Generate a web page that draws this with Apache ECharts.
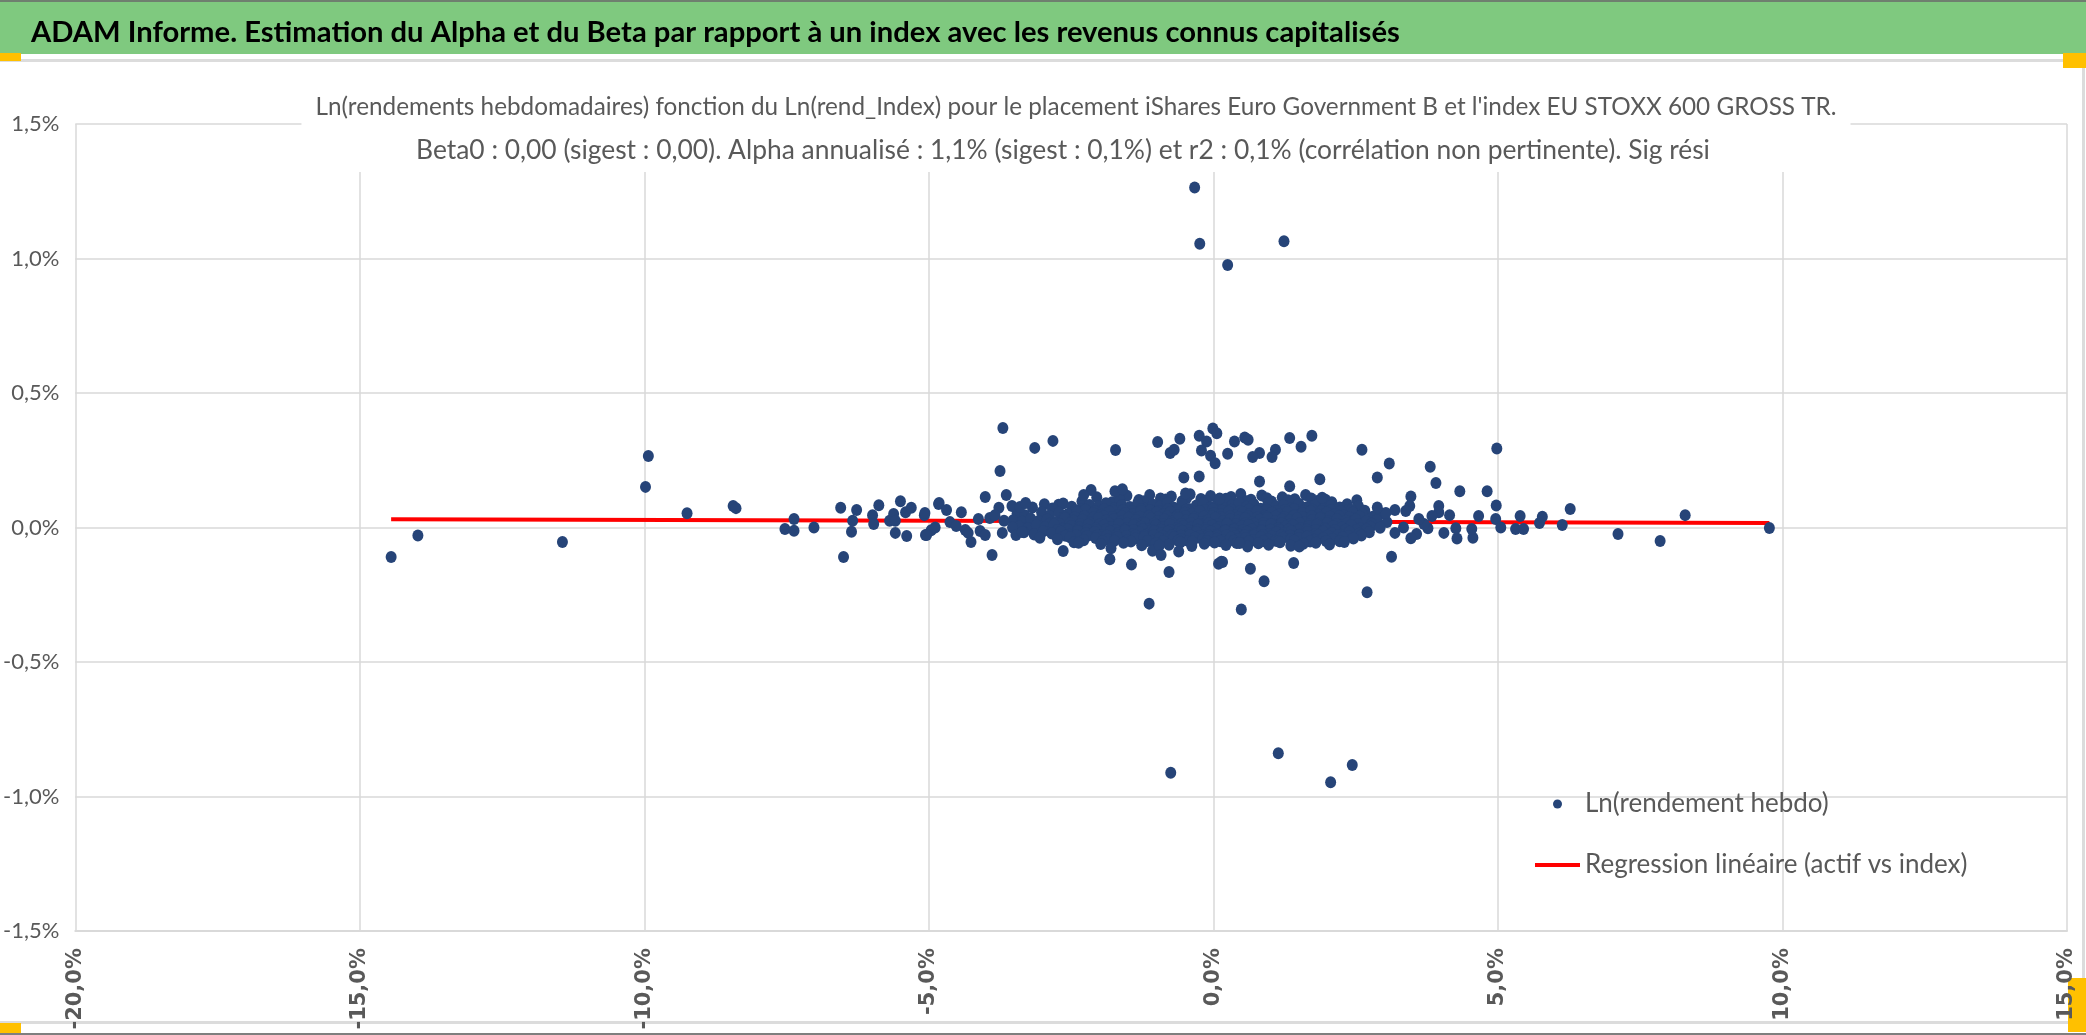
<!DOCTYPE html>
<html><head><meta charset="utf-8">
<script src="https://cdn.jsdelivr.net/npm/echarts@6/dist/echarts.min.js"></script>
<style>html,body{margin:0;padding:0;background:#fff;overflow:hidden}#c{width:2086px;height:1035px}</style>
</head><body><div id="c"></div>
<script>
const mainTitle = "ADAM Informe. Estimation du Alpha et du Beta par rapport à un index avec les revenus connus capitalisés";
const chartTitleLines = [
  "Ln(rendements hebdomadaires) fonction du Ln(rend_Index) pour le placement iShares Euro Government B et l'index EU STOXX 600 GROSS TR.",
  "Beta0 : 0,00 (sigest : 0,00). Alpha annualisé : 1,1% (sigest : 0,1%) et r2 : 0,1% (corrélation non pertinente). Sig rési"
];
const seriesNames = ["Ln(rendement hebdo)", "Regression linéaire (actif vs index)"];
const xTicks = [-20, -15, -10, -5, 0, 5, 10, 15];
const yTicks = [-1.5, -1, -0.5, 0, 0.5, 1, 1.5];

// regression line end points (x %, y %)
const regression = [[-14.45, 0.031], [9.77, 0.017]];

// isolated points, left tail
const pointsLeft = [[-14.45,-0.11],[-13.98,-0.03],[-11.44,-0.054],[-9.93,0.266],[-9.98,0.151],[-9.25,0.053],[-8.44,0.08],[-8.39,0.072],[-7.53,-0.006],[-7.37,0.032],[-7.37,-0.012],[-7.02,0.0],[-6.55,0.073],[-6.5,-0.11],[-6.36,-0.016],[-6.34,0.025],[-6.27,0.065],[-5.99,0.046],[-5.97,0.013],[-5.88,0.083],[-5.69,0.025],[-5.62,0.05],[-5.59,-0.02],[-5.59,0.025],[-5.5,0.098],[-5.41,0.057],[-5.31,0.073],[-5.39,-0.032],[-5.08,0.046],[-5.06,-0.028],[-4.96,-0.01],[-4.89,0.0],[-4.83,0.087]];

// isolated points, middle left
const pointsMidLeft = [[-3.70,0.37],[-3.75,0.21],[-3.14,0.296],[-2.82,0.322],[-1.72,0.288],[-0.98,0.318],[-0.59,0.33],[-0.76,0.277],[-0.69,0.289],[-0.25,0.341],[-0.12,0.32],[-0.21,0.286],[-0.01,0.368],[0.06,0.35],[-0.05,0.267],[0.03,0.239],[0.25,0.274],[0.37,0.32],[-0.52,0.186],[-0.25,0.19],[-0.49,0.126],[0.11,0.108],[-2.15,0.139],[-2.28,0.121],[-1.73,0.135],[-1.6,0.142],[-4.01,0.113],[-3.64,0.121],[-4.82,0.091],[-4.69,0.065],[-4.43,0.057],[-3.77,0.073],[-3.54,0.08],[-3.4,0.076],[-3.3,0.091],[-5.07,0.054],[-5.04,-0.028],[-4.63,0.02],[-4.52,0.006],[-4.36,-0.009],[-4.31,-0.02],[-4.26,-0.054],[-4.13,0.032],[-4.1,-0.013],[-4.01,-0.028],[-3.89,-0.102],[-3.93,0.035],[-3.84,0.046],[-3.71,-0.02],[-3.68,0.025],[-3.53,0.0],[-3.47,-0.028],[-3.36,-0.017],[-2.64,-0.087],[-2.37,-0.057],[-1.8,-0.077],[-1.82,-0.118],[-1.44,-0.138],[-1.13,-0.283],[-1.07,-0.086],[-0.95,-0.067],[-0.92,-0.102],[-0.78,-0.165],[-0.61,-0.089],[0.09,-0.135],[0.14,-0.127],[0.49,-0.305],[0.46,-0.058]];

// isolated points, middle right
const pointsMidRight = [[4.98,0.294],[4.97,0.082],[4.96,0.032],[5.05,0.0],[5.39,0.043],[5.31,-0.006],[5.45,-0.006],[5.73,0.017],[4.81,0.135],[4.66,0.043],[4.56,-0.038],[4.54,-0.006],[4.33,0.135],[4.28,-0.041],[4.26,-0.003],[4.15,0.046],[4.05,-0.02],[3.96,0.08],[3.96,0.057],[3.91,0.165],[3.81,0.226],[3.84,0.043],[3.77,-0.003],[3.7,0.013],[3.61,0.032],[3.57,-0.024],[3.47,-0.04],[3.47,0.115],[3.45,0.08],[3.38,0.061],[3.34,0.0],[3.19,0.065],[3.19,-0.02],[3.13,-0.109],[3.09,0.238],[3.03,0.054],[2.88,0.186],[2.88,0.074],[2.7,-0.241],[2.61,0.289],[1.87,0.179],[1.91,0.111],[1.73,0.341],[1.54,0.30],[1.34,0.333],[1.34,0.153],[1.09,0.289],[1.03,0.262],[0.81,0.171],[0.81,0.277],[0.69,0.262],[0.55,0.335],[0.61,0.326],[1.51,-0.071],[1.41,-0.132],[0.65,-0.153],[0.89,-0.2],[0.16,-0.128]];

// isolated points, right tail
const pointsRight = [[5.78,0.04],[6.13,0.009],[6.27,0.069],[7.11,-0.024],[7.85,-0.05],[8.29,0.046],[9.77,-0.002]];

// extreme points
const pointsExtreme = [[-0.33,1.264],[-0.24,1.055],[0.25,0.976],[1.24,1.064],[-0.75,-0.912],[1.14,-0.839],[2.06,-0.947],[2.44,-0.883]];

// dense central cloud, by band
const bandA = [[-2.72,0.085],[-2.31,0.098],[-2.05,0.112],[-1.78,0.094],[-1.52,0.118],[-1.31,0.102],[-1.12,0.121],[-0.93,0.108],[-0.74,0.115],[-0.55,0.098],[-0.41,0.124],[-0.22,0.106],[-0.05,0.117],[0.12,0.101],[0.31,0.113],[0.48,0.125],[0.66,0.103],[0.85,0.119],[1.02,0.097],[1.21,0.112],[1.43,0.105],[1.62,0.121],[1.84,0.099],[2.08,0.094],[2.35,0.086],[2.52,0.101]];
const bandA2 = [[-1.65,0.107],[-1.22,0.098],[-0.84,0.104],[-0.47,0.11],[-0.13,0.099],[0.22,0.107],[0.58,0.098],[0.94,0.109],[1.31,0.101],[1.72,0.108],[1.97,0.103]];
const bandB = [[-3.18,0.074],[-2.97,0.086],[-2.83,0.071],[-2.64,0.089],[-2.49,0.077],[-2.33,0.068],[-2.18,0.084],[-2.02,0.079],[-1.89,0.09],[-1.74,0.072],[-1.61,0.083],[-1.47,0.076],[-1.33,0.091],[-1.2,0.07],[-1.06,0.085],[-0.94,0.078],[-0.81,0.092],[-0.69,0.073],[-0.55,0.087],[-0.43,0.069],[-0.3,0.082],[-0.18,0.09],[-0.05,0.075],[0.07,0.088],[0.2,0.071],[0.33,0.084],[0.45,0.092],[0.58,0.077],[0.71,0.086],[0.83,0.07],[0.96,0.089],[1.1,0.079],[1.23,0.083],[1.37,0.072],[1.5,0.088],[1.64,0.075],[1.79,0.085],[1.93,0.069],[2.07,0.081],[2.22,0.074],[2.38,0.066],[2.55,0.078]];
const bandB2 = [[-2.42,0.063],[-2.25,0.066],[-2.08,0.061],[-1.92,0.067],[-1.76,0.062],[-1.59,0.065],[-1.43,0.06],[-1.27,0.068],[-1.11,0.064],[-0.96,0.061],[-0.8,0.067],[-0.64,0.063],[-0.48,0.066],[-0.33,0.06],[-0.16,0.065],[-0.01,0.068],[0.15,0.062],[0.31,0.066],[0.47,0.061],[0.63,0.067],[0.79,0.063],[0.94,0.066],[1.1,0.06],[1.26,0.065],[1.42,0.068],[1.58,0.062],[1.74,0.066],[1.9,0.061],[2.06,0.064],[2.24,0.06],[2.43,0.065],[2.66,0.062]];
const bandC = [[-3.45,0.052],[-3.31,0.046],[-3.02,0.057],[-2.88,0.044],[-2.71,0.055],[-2.56,0.049],[-2.4,0.058],[-2.26,0.043],[-2.11,0.053],[-1.97,0.047],[-1.83,0.059],[-1.68,0.045],[-1.55,0.054],[-1.41,0.05],[-1.27,0.061],[-1.14,0.044],[-1.0,0.056],[-0.88,0.048],[-0.76,0.058],[-0.63,0.046],[-0.5,0.055],[-0.37,0.051],[-0.24,0.06],[-0.12,0.043],[0.01,0.054],[0.14,0.049],[0.27,0.059],[0.39,0.045],[0.52,0.056],[0.64,0.05],[0.77,0.061],[0.9,0.044],[1.03,0.055],[1.16,0.048],[1.3,0.058],[1.43,0.046],[1.57,0.053],[1.71,0.06],[1.85,0.047],[1.99,0.056],[2.14,0.05],[2.29,0.045],[2.45,0.055],[2.62,0.048],[2.8,0.04],[2.95,0.052]];
const bandC2 = [[-2.62,0.04],[-2.44,0.037],[-2.27,0.041],[-2.1,0.038],[-1.93,0.042],[-1.77,0.039],[-1.61,0.041],[-1.45,0.037],[-1.29,0.04],[-1.13,0.042],[-0.97,0.038],[-0.81,0.041],[-0.65,0.039],[-0.49,0.042],[-0.33,0.037],[-0.17,0.04],[-0.02,0.042],[0.13,0.038],[0.29,0.041],[0.45,0.039],[0.61,0.042],[0.77,0.037],[0.93,0.04],[1.09,0.041],[1.25,0.038],[1.41,0.042],[1.57,0.039],[1.73,0.041],[1.89,0.037],[2.05,0.04],[2.21,0.042],[2.39,0.038],[2.57,0.041]];
const bandD = [[-3.52,0.027],[-3.36,0.021],[-3.21,0.033],[-3.07,0.024],[-2.92,0.03],[-2.77,0.019],[-2.61,0.034],[-2.46,0.025],[-2.3,0.029],[-2.16,0.02],[-2.02,0.035],[-1.88,0.026],[-1.75,0.031],[-1.62,0.022],[-1.49,0.036],[-1.36,0.027],[-1.23,0.019],[-1.1,0.033],[-0.98,0.024],[-0.86,0.03],[-0.73,0.021],[-0.61,0.035],[-0.48,0.026],[-0.35,0.032],[-0.22,0.02],[-0.09,0.029],[0.04,0.036],[0.17,0.023],[0.3,0.031],[0.43,0.025],[0.56,0.034],[0.69,0.02],[0.82,0.029],[0.95,0.035],[1.08,0.022],[1.21,0.03],[1.34,0.026],[1.47,0.033],[1.6,0.019],[1.74,0.028],[1.88,0.034],[2.02,0.023],[2.17,0.031],[2.33,0.025],[2.5,0.03],[2.68,0.022],[2.87,0.027],[3.05,0.02]];
const bandD2 = [[-2.88,0.014],[-2.7,0.012],[-2.52,0.016],[-2.34,0.013],[-2.17,0.015],[-2.0,0.012],[-1.84,0.016],[-1.68,0.013],[-1.52,0.015],[-1.36,0.012],[-1.2,0.016],[-1.04,0.014],[-0.88,0.012],[-0.72,0.015],[-0.56,0.013],[-0.4,0.016],[-0.24,0.012],[-0.08,0.015],[0.08,0.013],[0.24,0.016],[0.4,0.012],[0.56,0.015],[0.72,0.014],[0.88,0.016],[1.04,0.012],[1.2,0.015],[1.36,0.013],[1.52,0.016],[1.68,0.012],[1.84,0.014],[2.0,0.016],[2.17,0.013],[2.35,0.015],[2.54,0.012],[2.78,0.014]];
const bandE = [[-3.41,0.004],[-3.26,-0.003],[-3.11,0.008],[-2.96,0.001],[-2.8,0.011],[-2.65,-0.005],[-2.5,0.006],[-2.35,0.0],[-2.2,0.01],[-2.06,-0.004],[-1.92,0.007],[-1.79,0.002],[-1.66,0.012],[-1.53,-0.002],[-1.4,0.009],[-1.27,0.003],[-1.14,-0.006],[-1.01,0.008],[-0.89,0.001],[-0.77,0.011],[-0.64,-0.003],[-0.52,0.006],[-0.39,0.0],[-0.27,0.01],[-0.14,-0.004],[-0.02,0.007],[0.11,0.002],[0.24,0.012],[0.37,-0.005],[0.5,0.005],[0.62,0.009],[0.75,-0.001],[0.88,0.006],[1.01,0.011],[1.14,-0.004],[1.27,0.004],[1.4,0.008],[1.54,-0.002],[1.68,0.006],[1.82,0.01],[1.96,-0.003],[2.11,0.005],[2.26,0.0],[2.42,0.008],[2.58,-0.004],[2.76,0.003],[2.93,-0.001]];
const bandE2 = [[-2.74,-0.009],[-2.56,-0.007],[-2.39,-0.01],[-2.22,-0.008],[-2.05,-0.009],[-1.88,-0.007],[-1.72,-0.01],[-1.56,-0.008],[-1.4,-0.009],[-1.24,-0.007],[-1.08,-0.01],[-0.92,-0.008],[-0.76,-0.009],[-0.6,-0.007],[-0.44,-0.01],[-0.28,-0.008],[-0.12,-0.009],[0.04,-0.007],[0.2,-0.01],[0.36,-0.008],[0.52,-0.009],[0.68,-0.007],[0.84,-0.01],[1.0,-0.008],[1.16,-0.009],[1.32,-0.007],[1.48,-0.01],[1.64,-0.008],[1.8,-0.009],[1.97,-0.007],[2.14,-0.01],[2.32,-0.008],[2.51,-0.009],[2.69,-0.007]];
const bandF = [[-3.33,-0.018],[-3.15,-0.026],[-2.99,-0.014],[-2.84,-0.022],[-2.68,-0.016],[-2.53,-0.027],[-2.38,-0.013],[-2.24,-0.021],[-2.09,-0.017],[-1.95,-0.028],[-1.81,-0.015],[-1.68,-0.023],[-1.55,-0.012],[-1.42,-0.025],[-1.29,-0.018],[-1.17,-0.027],[-1.04,-0.014],[-0.92,-0.021],[-0.8,-0.016],[-0.67,-0.026],[-0.55,-0.013],[-0.42,-0.022],[-0.3,-0.017],[-0.17,-0.028],[-0.05,-0.015],[0.08,-0.024],[0.21,-0.012],[0.34,-0.02],[0.46,-0.027],[0.59,-0.016],[0.72,-0.023],[0.85,-0.013],[0.98,-0.026],[1.11,-0.018],[1.24,-0.022],[1.37,-0.014],[1.51,-0.027],[1.65,-0.017],[1.79,-0.024],[1.93,-0.015],[2.08,-0.021],[2.23,-0.027],[2.39,-0.016],[2.56,-0.023],[2.74,-0.018]];
const bandF2 = [[-2.6,-0.031],[-2.41,-0.029],[-2.22,-0.032],[-2.04,-0.03],[-1.87,-0.031],[-1.7,-0.029],[-1.53,-0.032],[-1.37,-0.03],[-1.21,-0.031],[-1.05,-0.029],[-0.89,-0.032],[-0.73,-0.03],[-0.57,-0.031],[-0.41,-0.029],[-0.25,-0.032],[-0.09,-0.03],[0.07,-0.031],[0.23,-0.029],[0.39,-0.032],[0.55,-0.03],[0.71,-0.031],[0.87,-0.029],[1.03,-0.032],[1.19,-0.03],[1.35,-0.031],[1.51,-0.029],[1.67,-0.032],[1.84,-0.03],[2.01,-0.031],[2.19,-0.029],[2.38,-0.032],[2.6,-0.03]];
const bandG = [[-3.05,-0.038],[-2.74,-0.044],[-2.52,-0.036],[-2.28,-0.047],[-2.07,-0.039],[-1.86,-0.045],[-1.69,-0.035],[-1.52,-0.048],[-1.37,-0.041],[-1.22,-0.037],[-1.08,-0.049],[-0.95,-0.04],[-0.82,-0.046],[-0.69,-0.036],[-0.57,-0.043],[-0.44,-0.05],[-0.32,-0.038],[-0.19,-0.045],[-0.07,-0.035],[0.06,-0.042],[0.18,-0.048],[0.31,-0.037],[0.44,-0.044],[0.57,-0.039],[0.7,-0.047],[0.83,-0.036],[0.96,-0.043],[1.09,-0.049],[1.22,-0.038],[1.36,-0.045],[1.5,-0.04],[1.64,-0.034],[1.78,-0.046],[1.93,-0.039],[2.09,-0.043],[2.27,-0.036],[2.46,-0.041]];
const bandG2 = [[-1.95,-0.051],[-1.74,-0.049],[-1.45,-0.052],[-1.16,-0.05],[-0.88,-0.051],[-0.62,-0.049],[-0.37,-0.052],[-0.12,-0.05],[0.12,-0.051],[0.36,-0.049],[0.62,-0.052],[0.88,-0.05],[1.14,-0.051],[1.42,-0.049],[1.7,-0.052],[1.98,-0.05],[2.22,-0.051]];
const bandH = [[-2.45,-0.055],[-1.98,-0.061],[-1.58,-0.057],[-1.26,-0.066],[-1.01,-0.058],[-0.78,-0.064],[-0.58,-0.055],[-0.38,-0.069],[-0.16,-0.06],[0.02,-0.056],[0.22,-0.065],[0.41,-0.058],[0.6,-0.071],[0.79,-0.059],[0.97,-0.064],[1.17,-0.055],[1.36,-0.068],[1.58,-0.06],[1.8,-0.057],[2.04,-0.063],[2.3,-0.054]];

const scatterData = [].concat(bandA, bandA2, bandB, bandB2, bandC, bandC2, bandD, bandD2, bandE, bandE2,
  bandF, bandF2, bandG, bandG2, bandH, pointsLeft, pointsMidLeft, pointsMidRight, pointsRight, pointsExtreme);

const SANS = 'Lato, "Open Sans", sans-serif';
const GREY = '#595959';
const GRID = '#d9d9d9';
const fmt = v => v.toFixed(1).replace('.', ',') + '%';
// legend icon for the regression line: a 4px bar centred in a 45x9 box
const lineIcon = 'path://M0,0M45,9M0,2.5H45V6.5H0Z';

const chart = echarts.init(document.getElementById('c'), null, {renderer: 'canvas'});
chart.setOption({
  backgroundColor: '#ffffff',
  animation: false,
  graphic: [
    {type: 'rect', silent: true, z: -10, shape: {x: 0, y: 0, width: 2086, height: 54}, style: {fill: '#7fc97f'}},
    {type: 'rect', silent: true, z: -9, shape: {x: 0, y: 0, width: 2086, height: 2}, style: {fill: '#6f7f6f'}},
    {type: 'rect', silent: true, z: -9, shape: {x: 0, y: 59, width: 2086, height: 3}, style: {fill: '#dcdcdc'}},
    {type: 'rect', silent: true, z: -9, shape: {x: 2082, y: 60, width: 3, height: 970}, style: {fill: '#dcdcdc'}},
    {type: 'rect', silent: true, z: -9, shape: {x: 0, y: 1021, width: 2086, height: 3}, style: {fill: '#dcdcdc'}},
    {type: 'rect', silent: true, z: -9, shape: {x: 0, y: 1033, width: 2086, height: 2}, style: {fill: '#7f7f7f'}},
    {type: 'rect', silent: true, z: -8, shape: {x: 0, y: 53, width: 21, height: 8}, style: {fill: '#ffc000'}},
    {type: 'rect', silent: true, z: -8, shape: {x: 2063, y: 53, width: 23, height: 15}, style: {fill: '#ffc000'}},
    {type: 'rect', silent: true, z: -8, shape: {x: 2068, y: 978, width: 18, height: 54}, style: {fill: '#ffc000'}},
    {type: 'rect', silent: true, z: -8, shape: {x: 0, y: 1023, width: 21, height: 10}, style: {fill: '#ffc000'}}
  ],
  title: [
    {text: mainTitle, left: 26, top: 10,
     textStyle: {fontFamily: SANS, fontWeight: 'bold', fontSize: 29.2, color: '#000', lineHeight: 35}},
    {text: '{a|' + chartTitleLines[0] + '}\n{b|' + chartTitleLines[1] + '}', left: 1062, textAlign: 'center', top: 86,
     backgroundColor: '#ffffff', padding: [0, 14, 0, 14],
     textStyle: {fontFamily: SANS, fontWeight: 'normal', color: GREY, lineHeight: 43,
       rich: {
         a: {fontFamily: SANS, fontWeight: 'normal', fontSize: 24.3, color: GREY, lineHeight: 43},
         b: {fontFamily: SANS, fontWeight: 'normal', fontSize: 26.4, color: GREY, lineHeight: 43, padding: [0, 26, 0, 0]}
       }}}
  ],
  legend: {
    orient: 'vertical', left: 1530, top: 781, itemWidth: 45, itemHeight: 9, itemGap: 25,
    data: [{name: seriesNames[0], icon: 'circle'}, {name: seriesNames[1], icon: lineIcon}],
    textStyle: {fontFamily: SANS, fontSize: 26, color: GREY, lineHeight: 36}
  },
  grid: {left: 69, right: 19, top: 124, bottom: 104, containLabel: false},
  xAxis: {
    type: 'value', min: xTicks[0], max: xTicks[xTicks.length - 1], interval: 5,
    axisLine: {show: true, onZero: false, lineStyle: {color: GRID, width: 2}},
    axisTick: {show: false},
    splitLine: {show: true, lineStyle: {color: GRID, width: 1.5}},
    axisLabel: {rotate: 90, margin: 17, formatter: fmt, fontFamily: 'DejaVu Sans', fontWeight: 'bold', fontSize: 21, color: GREY}
  },
  yAxis: {
    type: 'value', min: yTicks[0], max: yTicks[yTicks.length - 1], interval: 0.5,
    axisLine: {show: false}, axisTick: {show: false},
    splitLine: {show: true, lineStyle: {color: GRID, width: 1.5}},
    axisLabel: {margin: 16, formatter: fmt, fontFamily: SANS, fontSize: 22, color: GREY}
  },
  series: [
    {name: seriesNames[0], type: 'scatter', z: 3, data: scatterData, symbol: 'circle', symbolSize: [11, 12],
     itemStyle: {color: '#264478', opacity: 1}},
    {name: seriesNames[1], type: 'line', z: 2, data: regression, symbol: 'none', showSymbol: false,
     lineStyle: {color: '#ff0000', width: 4}, itemStyle: {color: '#ff0000'}}
  ]
});
</script></body></html>
